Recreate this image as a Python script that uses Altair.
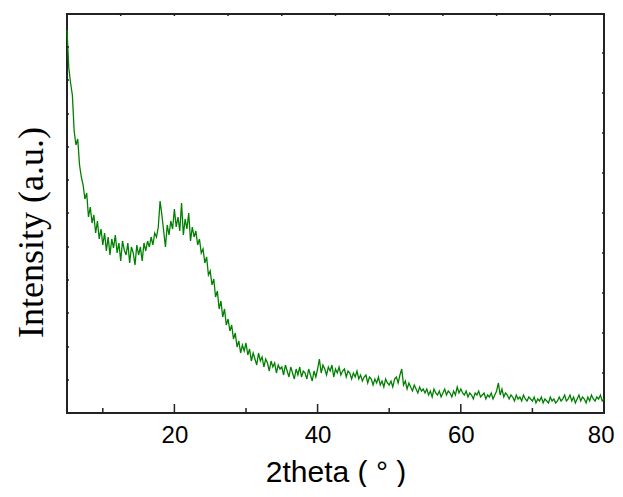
import altair as alt
import pandas as pd

# XRD scan: 2theta from 5 to 80 deg, step 0.25 deg
theta_start = 5.0
theta_step = 0.25
intensity = [
    # 5.00 - 9.75
    383, 345, 330, 318, 282, 268, 274, 248, 236, 228, 214, 220, 196, 206, 190, 198, 180, 192, 174, 184,
    # 10.00 - 14.75
    168, 180, 162, 176, 158, 174, 165, 178, 160, 170, 152, 172, 163, 158, 170, 150, 166, 160, 148, 168,
    # 15.00 - 19.75
    158, 166, 152, 170, 162, 172, 166, 176, 168, 180, 176, 186, 212, 198, 182, 166, 188, 178, 192, 184,
    # 20.00 - 24.75
    204, 186, 196, 182, 210, 178, 194, 184, 200, 172, 186, 176, 182, 168, 174, 160, 164, 150, 156, 138,
    # 25.00 - 29.75
    142, 128, 134, 116, 122, 104, 112, 96, 104, 88, 94, 82, 88, 74, 80, 66, 72, 60, 68, 62,
    # 30.00 - 34.75
    70, 58, 64, 52, 60, 54, 48, 60, 52, 56, 46, 54, 50, 42, 52, 46, 50, 40, 48, 44,
    # 35.00 - 39.75
    46, 38, 48, 42, 36, 46, 40, 34, 44, 38, 46, 36, 42, 40, 34, 44, 38, 32, 42, 36,
    # 40.00 - 44.75
    44, 54, 40, 48, 44, 38, 46, 42, 48, 36, 44, 40, 46, 38, 42, 44, 36, 42, 40, 34,
    # 45.00 - 49.75
    40, 36, 42, 34, 38, 32, 36, 38, 30, 36, 34, 28, 34, 30, 36, 28, 32, 26, 34, 30,
    # 50.00 - 54.75
    28, 32, 26, 34, 36, 30, 38, 44, 28, 32, 24, 30, 26, 22, 28, 24, 20, 26, 22, 24,
    # 55.00 - 59.75
    20, 24, 18, 22, 16, 24, 20, 18, 22, 16, 20, 24, 18, 22, 20, 16, 22, 18, 26, 20,
    # 60.00 - 64.75
    24, 20, 18, 22, 16, 20, 18, 14, 20, 18, 22, 16, 18, 20, 14, 18, 16, 20, 14, 18,
    # 65.00 - 69.75
    22, 30, 18, 24, 16, 20, 18, 14, 18, 16, 12, 18, 14, 16, 12, 18, 14, 12, 16, 14,
    # 70.00 - 74.75
    12, 16, 10, 14, 12, 16, 10, 14, 12, 10, 16, 12, 14, 10, 12, 16, 12, 14, 18, 12,
    # 75.00 - 79.75
    14, 18, 12, 16, 10, 14, 18, 12, 16, 14, 10, 16, 12, 18, 14, 12, 16, 14, 18, 12,
    # 80.00
    14,
]
theta = [theta_start + theta_step * i for i in range(len(intensity))]

x_labels = [20, 40, 60, 80]
x_major_ticks = [20, 40, 60]
x_minor_ticks = [10, 30, 50, 70]
top_ticks = [12.5, 20, 27.5, 35, 42.5, 50, 57.5, 65, 72.5]
left_ticks = [33, 66, 100, 133, 166, 200, 233, 266, 299, 333, 366]
right_ticks = [40, 80, 120, 160, 200, 240, 280, 320, 360]

W, H = 537, 399
frame = "#222222"

xs = alt.Scale(domain=[5, 80], nice=False, zero=False)
ys = alt.Scale(domain=[0, 399], nice=False, zero=False)

x_axis = alt.Axis(values=x_labels, ticks=False, domain=False, grid=False,
                  labelFontSize=24, labelFont="Liberation Sans", labelColor="#000",
                  labelPadding=10, labelFlush=True, labelFlushOffset=10,
                  title="2theta ( ° )", titleFont="Liberation Sans", titleFontSize=30,
                  titleFontWeight="normal", titleColor="#000",
                  titleBaseline="alphabetic", titleY=68, titleX=W / 2)
y_axis = alt.Axis(labels=False, ticks=False, domain=False, grid=False,
                  title="Intensity (a.u.)", titleFont="Liberation Serif", titleFontSize=36,
                  titleFontWeight="normal", titleColor="#000", titleAngle=270,
                  titleBaseline="alphabetic", titleAlign="center",
                  titleX=-25, titleY=218)

df = pd.DataFrame({"theta": theta, "intensity": intensity})

line = alt.Chart(df).mark_line(color="#008000", strokeWidth=1.3).encode(
    x=alt.X("theta:Q", scale=xs, axis=x_axis),
    y=alt.Y("intensity:Q", scale=ys, axis=y_axis),
)

def xtick_layer(vals, y_top, y_bot):
    d = pd.DataFrame({"theta": vals})
    return alt.Chart(d).mark_rule(color=frame, strokeWidth=1.5).encode(
        x=alt.X("theta:Q", scale=xs, axis=x_axis),
        y=alt.value(y_top), y2=alt.value(y_bot))

def ytick_layer(vals, x_a, x_b):
    d = pd.DataFrame({"intensity": vals})
    return alt.Chart(d).mark_rule(color=frame, strokeWidth=1.5).encode(
        y=alt.Y("intensity:Q", scale=ys, axis=y_axis),
        x=alt.value(x_a), x2=alt.value(x_b))

chart = alt.layer(
    line,
    xtick_layer(x_major_ticks, H - 9, H),
    xtick_layer(x_minor_ticks, H - 5, H),
    xtick_layer(top_ticks, 0, 2),
    ytick_layer(left_ticks, 0, 2),
    ytick_layer(right_ticks, W - 2, W),
).properties(
    width=W, height=H,
    background="white",
    autosize=alt.AutoSizeParams(type="none"),
    padding={"left": 59, "top": 6, "right": 11, "bottom": 74},
).configure_view(
    stroke=frame, strokeWidth=2
)

chart.save("out.html", embed_options={"renderer": "svg", "actions": False})
